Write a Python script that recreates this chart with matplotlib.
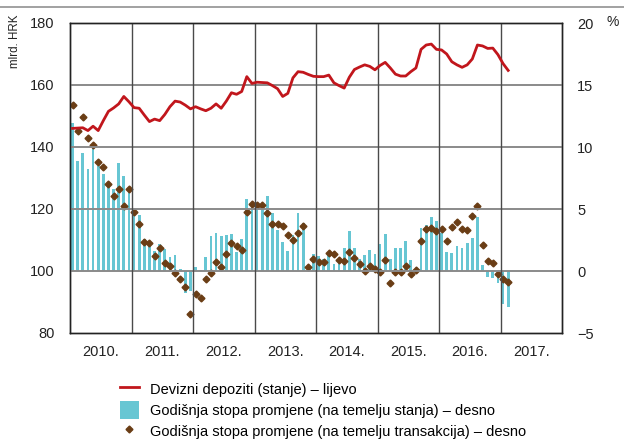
import numpy as np
import matplotlib
matplotlib.use("Agg")
import matplotlib.pyplot as plt
from matplotlib.lines import Line2D
from matplotlib.patches import Patch

plt.rcParams['font.family'] = ['Liberation Sans', 'DejaVu Sans']

# monthly series, Jan 2010 - Feb 2017
deposits = [146.0, 146.1, 146.2, 145.3, 146.7, 145.3, 148.5, 151.5, 152.6, 153.9, 156.3, 154.6,
            152.7, 152.5, 150.3, 148.2, 149.0, 148.5, 150.5, 153.0, 154.8, 154.5, 153.5, 152.3,
            153.0, 152.3, 151.7, 152.5, 153.9, 152.5, 154.8, 157.5, 157.0, 157.9, 162.7, 160.5,
            160.9, 160.8, 160.7, 159.8, 158.8, 156.3, 157.3, 162.3, 164.3, 164.1, 163.4, 162.8,
            162.7, 162.7, 163.2, 160.7, 159.8, 159.0, 162.5, 165.0, 165.8, 166.5, 166.0, 164.9,
            166.3, 167.3, 165.5, 163.5, 162.9, 162.9, 164.3, 165.5, 171.5, 172.9, 173.2, 171.5,
            171.3, 170.0, 167.5, 166.5, 165.7, 166.5, 168.4, 172.9, 172.6, 171.8, 171.9, 169.8,
            166.9, 164.7]

rate_stock = [11.9, 8.9, 9.5, 8.2, 10.0, 8.5, 7.8, 7.2, 6.6, 8.7, 7.7, 6.5,
              4.8, 4.5, 2.6, 2.2, 1.6, 2.2, 1.8, 1.15, 1.3, 0.15, -1.8, -1.6,
              0.35, 0.05, 1.15, 2.8, 3.1, 2.8, 2.9, 3.0, 1.56, 2.6, 5.8, 5.5,
              5.5, 5.4, 6.05, 4.7, 3.3, 2.3, 1.6, 2.9, 4.7, 3.85, 0.0, 1.4,
              1.2, 1.0, 1.5, 0.6, 0.95, 1.85, 3.25, 1.83, 0.94, 1.3, 1.7, 1.37,
              2.18, 2.98, 1.0, 1.83, 1.83, 2.45, 0.87, 0.0, 3.5, 3.7, 4.35, 4.0,
              3.1, 1.53, 1.43, 2.0, 1.83, 2.27, 2.7, 4.38, 0.48, -0.46, -0.6, -0.94,
              -2.66, -2.93]

rate_trans = [13.4, 11.3, 12.4, 10.7, 10.2, 8.8, 8.4, 7.0, 6.05, 6.6, 5.25, 6.6,
              4.73, 3.8, 2.3, 2.23, 1.24, 1.82, 0.65, 0.42, -0.13, -0.65, -1.32, -3.47,
              -1.87, -2.2, -0.67, -0.13, 0.73, 0.3, 1.34, 2.25, 2.0, 1.67, 4.78, 5.38,
              5.3, 5.3, 4.68, 3.76, 3.82, 3.66, 2.9, 2.47, 3.04, 3.63, 0.3, 0.97,
              0.75, 0.75, 1.42, 1.37, 0.89, 0.78, 1.5, 1.02, 0.54, 0.04, 0.43, 0.16,
              -0.12, 0.85, -0.93, -0.12, -0.06, 0.44, -0.24, 0.12, 2.45, 3.37, 3.47, 3.2,
              3.4, 2.4, 3.56, 3.99, 3.4, 3.33, 4.47, 5.28, 2.1, 0.83, 0.67, -0.22,
              -0.67, -0.89]

years = list(range(2010, 2018))
year_labels = [f"{y}." for y in years]

red = '#c1161c'
cyan = '#67c6d3'
brown = '#6a3d15'

n = len(deposits)
x = 2010 + (np.arange(n) + 0.5) / 12.0

fig = plt.figure(figsize=(6.24, 4.43), dpi=100)
ax = fig.add_axes([70/624, 1-333/443, 492/624, 310/443])
ax2 = ax.twinx()

ax2.bar(x, rate_stock, width=0.55/12, color=cyan, edgecolor='none', zorder=1)
ax2.plot(x, rate_trans, linestyle='none', marker='D', ms=3.5, mfc=brown, mec=brown, zorder=3)
ax.plot(x, deposits, color=red, lw=2.0, zorder=4)

# line axis on top so the red series and the grid sit over the bars
ax.set_zorder(ax2.get_zorder() + 1)
ax.patch.set_visible(False)

ax.set_xlim(2010, 2018)
ax.set_ylim(80, 180)
ax2.set_ylim(-5, 20)
ax.set_yticks(np.arange(80, 181, 20))
ax2.set_yticks(np.arange(-5, 21, 5))

ax.set_xticks(years + [2018])
ax.set_xticklabels([])
ax.set_xticks(np.array(years) + 0.5, minor=True)
ax.set_xticklabels(year_labels, minor=True)
ax.tick_params(axis='x', which='both', length=0, labelsize=10.5, pad=9, colors='#222')
ax.tick_params(axis='y', length=0, labelsize=10.5, pad=11, colors='#222')
ax2.tick_params(axis='y', length=0, labelsize=10.5, pad=11, colors='#222')

for v in range(100, 180, 20):
    ax.axhline(v, color='#8a8a8a', lw=1.4, zorder=2)
for yr in range(2011, 2018):
    ax.axvline(yr, color='#4a4a4a', lw=1.0, zorder=2)

for a in (ax, ax2):
    for s in a.spines.values():
        s.set_color('#222')
        s.set_linewidth(1.0)

fig.text(15/624, 1-14/443, 'mlrd. HRK', rotation=90, ha='center', va='top', fontsize=8.3, color='#222')
fig.text(613/624, 1-22/443, '%', ha='center', va='center', fontsize=10, color='#222')
fig.add_artist(Line2D([0, 1], [1-7/443, 1-7/443], color='#9a9a9a', lw=1.3))

handles = [Line2D([], [], color=red, lw=2.0),
           Patch(facecolor=cyan, edgecolor='none'),
           Line2D([], [], linestyle='none', marker='D', ms=3.5, mfc=brown, mec=brown)]
labels = ['Devizni depoziti (stanje) – lijevo',
          'Godišnja stopa promjene (na temelju stanja) – desno',
          'Godišnja stopa promjene (na temelju transakcija) – desno']
fig.legend(handles, labels, loc='upper left', bbox_to_anchor=(120/624, 1-380/443),
           frameon=False, fontsize=10.5, handlelength=1.3, handleheight=1.55,
           handletextpad=0.75, labelspacing=0.2, borderpad=0, borderaxespad=0)

fig.savefig('out.png', dpi=100)
